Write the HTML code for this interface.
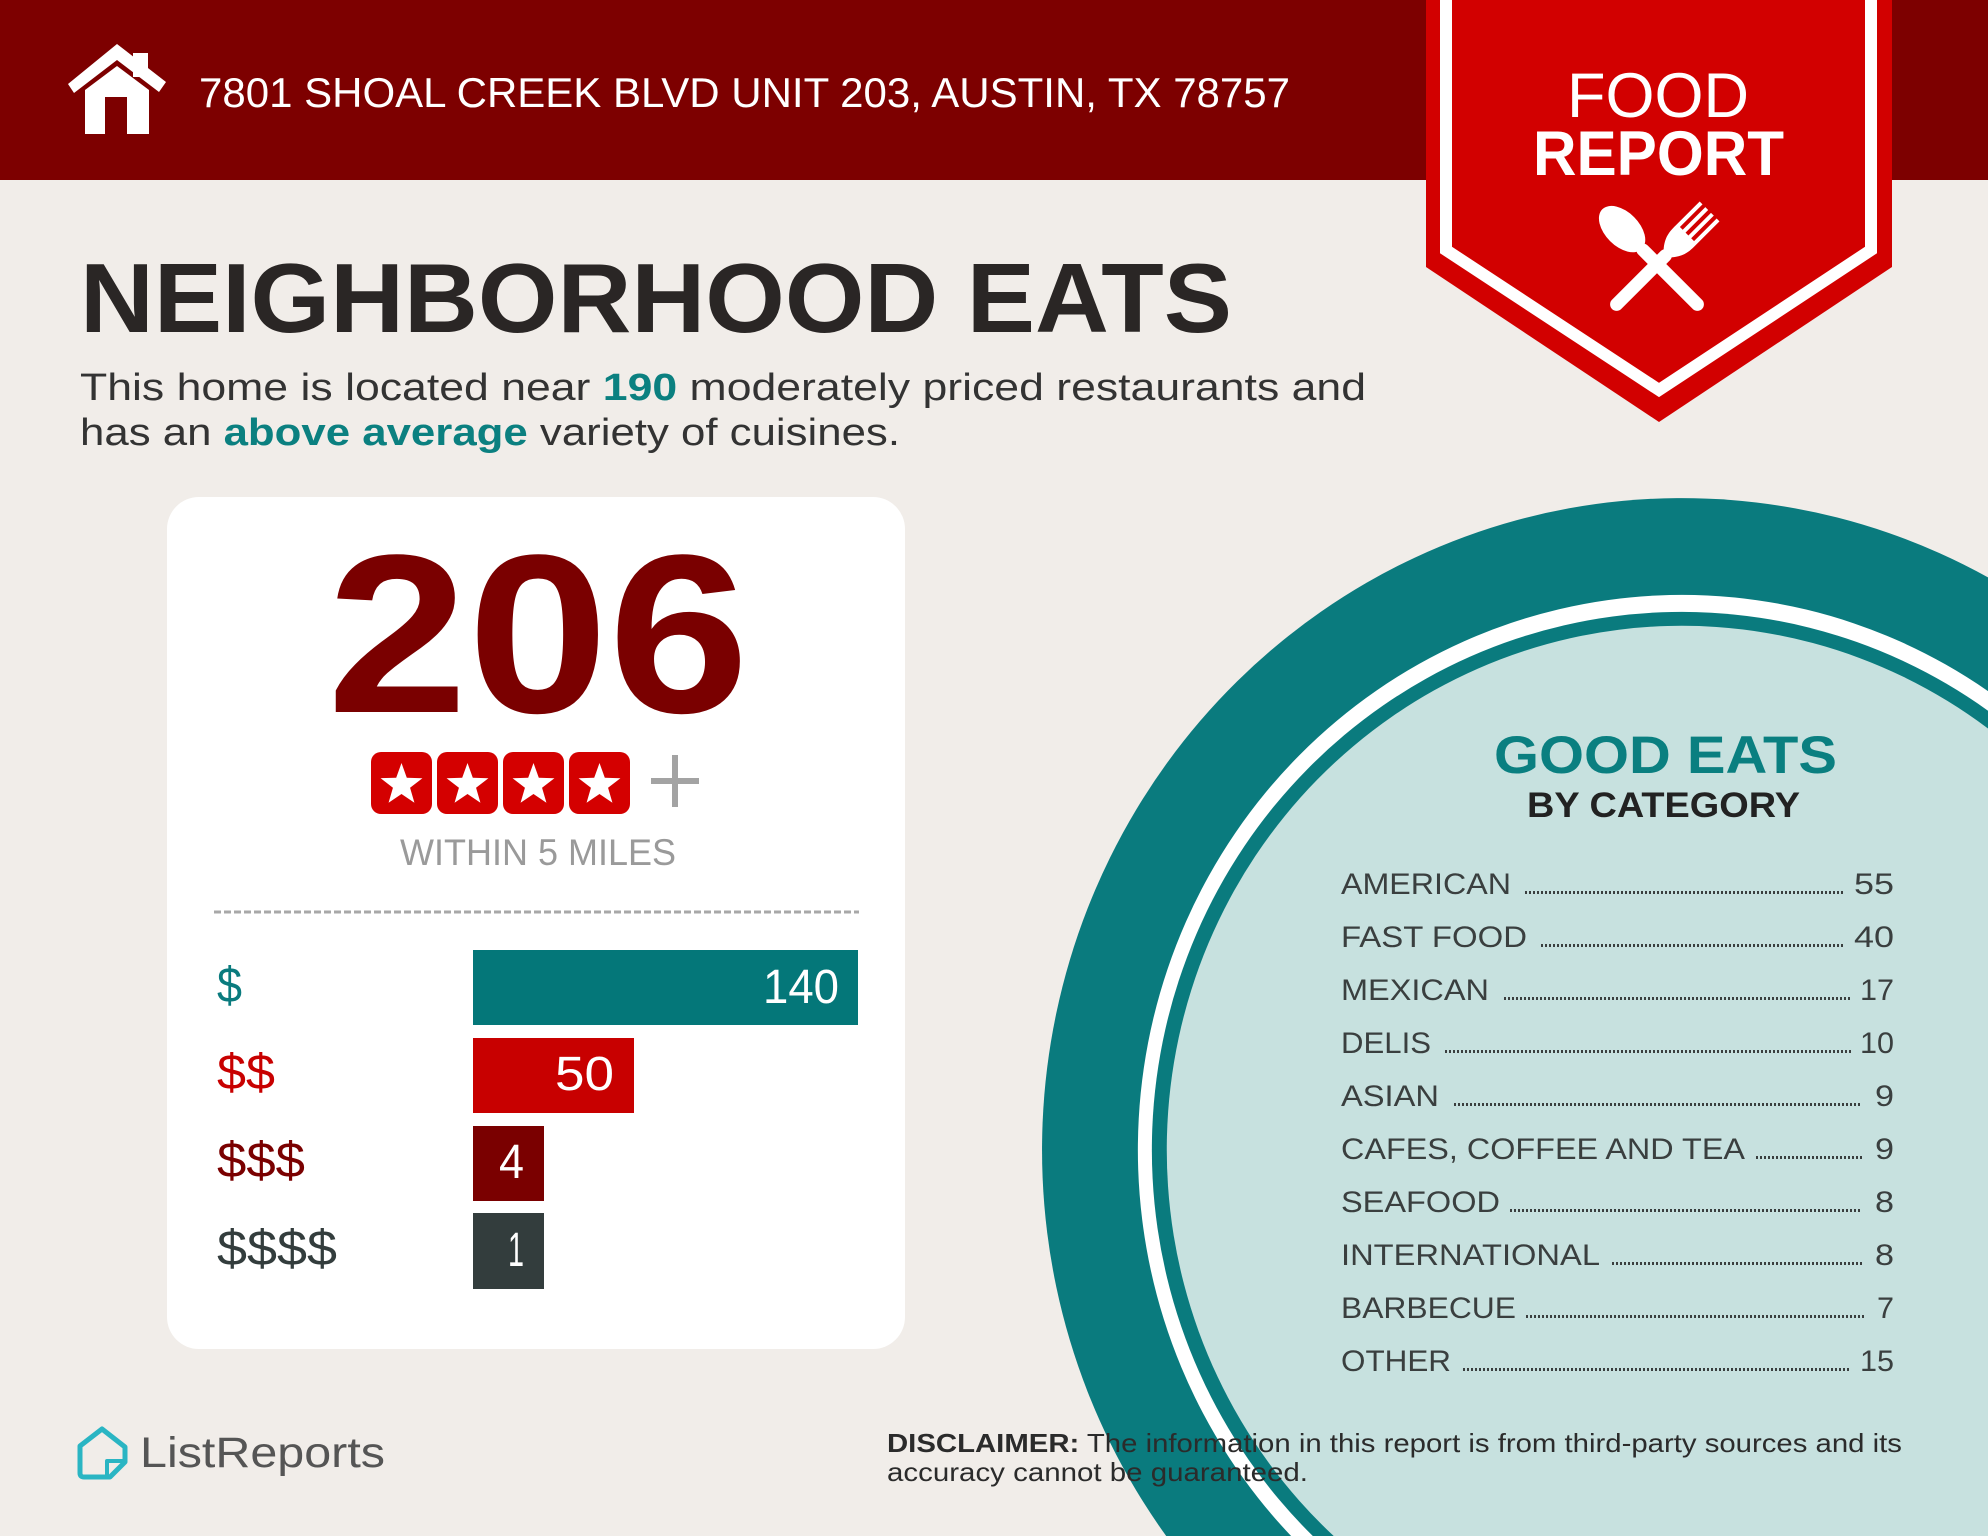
<!DOCTYPE html>
<html><head><meta charset="utf-8"><style>
html,body{margin:0;padding:0;background:#f1ede9;width:1988px;height:1536px;overflow:hidden;}
svg{display:block;position:absolute;left:0;top:0;}
text{font-family:"Liberation Sans",Arial,sans-serif;}
</style></head><body>
<svg width="1988" height="1536" viewBox="0 0 1988 1536" xmlns="http://www.w3.org/2000/svg">
<rect width="1988" height="1536" fill="#f1ede9"/>

<!-- big plate circle (clipped to frame) -->
<path d="M 1988 577.4 A 640 652 0 0 0 1166.2 1536 L 1988 1536 Z" fill="#0a7b7e"/>
<path d="M 1988 691.1 A 544 555 0 0 0 1291.1 1536 L 1988 1536 Z" fill="#ffffff"/>
<path d="M 1988 710.7 A 530 538 0 0 0 1312.8 1536 L 1988 1536 Z" fill="#0a7b7e"/>
<path d="M 1988 728.5 A 515 524 0 0 0 1333.7 1536 L 1988 1536 Z" fill="#c7e1df"/>

<!-- header band -->
<rect x="0" y="0" width="1988" height="180" fill="#7d0000"/>

<!-- house icon -->
<rect x="133" y="53" width="15" height="24" fill="#fff"/>
<polygon points="68,84 117,44 166,82 159,92 117,60 74,93" fill="#fff"/>
<polygon points="85,134 85,90 117,66 149,90 149,134" fill="#fff"/>
<rect x="105" y="97" width="22" height="37" fill="#7d0000"/>

<text x="199" y="107" font-size="42" fill="#ffffff" textLength="1091" lengthAdjust="spacingAndGlyphs">7801 SHOAL CREEK BLVD UNIT 203, AUSTIN, TX 78757</text>

<!-- ribbon -->
<polygon points="1426,0 1892,0 1892,267 1659,422 1426,267" fill="#d20000"/>
<path d="M1446,0 L1446,250 L1659,390 L1871,250 L1871,0" fill="none" stroke="#ffffff" stroke-width="12" stroke-linejoin="miter"/>
<text x="1567" y="117" font-size="63" fill="#ffffff" textLength="182" lengthAdjust="spacingAndGlyphs">FOOD</text>
<text x="1533" y="175" font-size="63" font-weight="bold" fill="#ffffff" textLength="251" lengthAdjust="spacingAndGlyphs">REPORT</text>

<!-- fork -->
<g transform="translate(1612,309) rotate(45)" fill="#ffffff">
  <rect x="-6.5" y="-82" width="13" height="82" rx="6.5"/>
  <path d="M -5 -78 C -14 -88 -14 -96 -14 -104 L -14 -138 L -10 -138 L -10 -106 L -6 -106 L -6 -138 L -2 -138 L -2 -106 L 2 -106 L 2 -138 L 6 -138 L 6 -106 L 10 -106 L 10 -138 L 14 -138 L 14 -104 C 14 -96 14 -88 5 -78 Z"/>
</g>
<!-- spoon -->
<g transform="translate(1702,309) rotate(-45)" fill="#ffffff">
  <rect x="-6.5" y="-90" width="13" height="90" rx="6.5"/>
  <ellipse cx="0" cy="-113" rx="17" ry="28"/>
</g>

<!-- title -->
<text x="80" y="332" font-size="98" font-weight="bold" fill="#2a2625" textLength="1152" lengthAdjust="spacingAndGlyphs">NEIGHBORHOOD EATS</text>
<text x="80" y="400" font-size="38" fill="#333333" textLength="1286" lengthAdjust="spacingAndGlyphs">This home is located near <tspan font-weight="bold" fill="#0b8080">190</tspan> moderately priced restaurants and</text>
<text x="80" y="445" font-size="38" fill="#333333" textLength="820" lengthAdjust="spacingAndGlyphs">has an <tspan font-weight="bold" fill="#0b8080">above average</tspan> variety of cuisines.</text>

<!-- card -->
<rect x="167" y="497" width="738" height="852" rx="32" fill="#ffffff"/>
<text x="327" y="712" font-size="226" font-weight="bold" fill="#7a0000" textLength="422" lengthAdjust="spacingAndGlyphs">206</text>

<!-- stars -->
<g>
  <rect x="371" y="752" width="61" height="62" rx="10" fill="#d40000"/>
  <rect x="437" y="752" width="61" height="62" rx="10" fill="#d40000"/>
  <rect x="503" y="752" width="61" height="62" rx="10" fill="#d40000"/>
  <rect x="569" y="752" width="61" height="62" rx="10" fill="#d40000"/>
  <g fill="#ffffff">
    <polygon transform="translate(401.5,785)" points="0,-22 5.29,-7.28 20.92,-6.8 8.56,2.78 12.93,17.8 0,9 -12.93,17.8 -8.56,2.78 -20.92,-6.8 -5.29,-7.28"/>
    <polygon transform="translate(467.5,785)" points="0,-22 5.29,-7.28 20.92,-6.8 8.56,2.78 12.93,17.8 0,9 -12.93,17.8 -8.56,2.78 -20.92,-6.8 -5.29,-7.28"/>
    <polygon transform="translate(533.5,785)" points="0,-22 5.29,-7.28 20.92,-6.8 8.56,2.78 12.93,17.8 0,9 -12.93,17.8 -8.56,2.78 -20.92,-6.8 -5.29,-7.28"/>
    <polygon transform="translate(599.5,785)" points="0,-22 5.29,-7.28 20.92,-6.8 8.56,2.78 12.93,17.8 0,9 -12.93,17.8 -8.56,2.78 -20.92,-6.8 -5.29,-7.28"/>
  </g>
  <rect x="651" y="778" width="48" height="6" fill="#a3a3a3"/>
  <rect x="672" y="755" width="6" height="52" fill="#a3a3a3"/>
</g>
<text x="400" y="865" font-size="37" fill="#9a9a9a" textLength="276" lengthAdjust="spacingAndGlyphs">WITHIN 5 MILES</text>
<line x1="214" y1="912" x2="859" y2="912" stroke="#a8a8a8" stroke-width="3" stroke-dasharray="7 3"/>

<!-- bars -->
<text x="217" y="1002" font-size="50" fill="#0a7b7e" textLength="25" lengthAdjust="spacingAndGlyphs">$</text>
<rect x="473" y="950" width="385" height="75" fill="#047779"/>
<text x="763" y="1003" font-size="48" fill="#ffffff" textLength="76" lengthAdjust="spacingAndGlyphs">140</text>

<text x="217" y="1089" font-size="50" fill="#c80000" textLength="58" lengthAdjust="spacingAndGlyphs">$$</text>
<rect x="473" y="1038" width="161" height="75" fill="#c80000"/>
<text x="555" y="1090" font-size="48" fill="#ffffff" textLength="59" lengthAdjust="spacingAndGlyphs">50</text>

<text x="217" y="1177" font-size="50" fill="#7a0000" textLength="88" lengthAdjust="spacingAndGlyphs">$$$</text>
<rect x="473" y="1126" width="71" height="75" fill="#7a0000"/>
<text x="499" y="1178" font-size="48" fill="#ffffff" textLength="25" lengthAdjust="spacingAndGlyphs">4</text>

<text x="217" y="1265" font-size="50" fill="#333d3d" textLength="120" lengthAdjust="spacingAndGlyphs">$$$$</text>
<rect x="473" y="1213" width="71" height="76" fill="#333d3d"/>
<text x="508" y="1266" font-size="48" fill="#ffffff" textLength="16" lengthAdjust="spacingAndGlyphs">1</text>

<!-- good eats list -->
<text x="1494" y="773" font-size="53" font-weight="bold" fill="#0a7f80" textLength="343" lengthAdjust="spacingAndGlyphs">GOOD EATS</text>
<text x="1527" y="817" font-size="35" font-weight="bold" fill="#222222" textLength="273" lengthAdjust="spacingAndGlyphs">BY CATEGORY</text>

<g font-size="30" fill="#3a3f3f">
  <g stroke="#3a3f3f" stroke-width="3" stroke-dasharray="2 2">
    <line x1="1525" y1="892.5" x2="1845" y2="892.5"/>
    <line x1="1541" y1="945.5" x2="1845" y2="945.5"/>
    <line x1="1504" y1="998.5" x2="1851" y2="998.5"/>
    <line x1="1445" y1="1051.5" x2="1851" y2="1051.5"/>
    <line x1="1454" y1="1104.5" x2="1862" y2="1104.5"/>
    <line x1="1756" y1="1157.5" x2="1862" y2="1157.5"/>
    <line x1="1510" y1="1210.5" x2="1862" y2="1210.5"/>
    <line x1="1612" y1="1263.5" x2="1862" y2="1263.5"/>
    <line x1="1526" y1="1316.5" x2="1866" y2="1316.5"/>
    <line x1="1463" y1="1369.5" x2="1851" y2="1369.5"/>
  </g>
  <text x="1341" y="894" textLength="170" lengthAdjust="spacingAndGlyphs">AMERICAN</text>
  <text x="1854" y="894" textLength="40" lengthAdjust="spacingAndGlyphs">55</text>

  <text x="1341" y="947" textLength="186" lengthAdjust="spacingAndGlyphs">FAST FOOD</text>
  <text x="1854" y="947" textLength="40" lengthAdjust="spacingAndGlyphs">40</text>

  <text x="1341" y="1000" textLength="148" lengthAdjust="spacingAndGlyphs">MEXICAN</text>
  <text x="1860" y="1000" textLength="34" lengthAdjust="spacingAndGlyphs">17</text>

  <text x="1341" y="1053" textLength="90" lengthAdjust="spacingAndGlyphs">DELIS</text>
  <text x="1860" y="1053" textLength="34" lengthAdjust="spacingAndGlyphs">10</text>

  <text x="1341" y="1106" textLength="98" lengthAdjust="spacingAndGlyphs">ASIAN</text>
  <text x="1875" y="1106" textLength="19" lengthAdjust="spacingAndGlyphs">9</text>

  <text x="1341" y="1159" textLength="404" lengthAdjust="spacingAndGlyphs">CAFES, COFFEE AND TEA</text>
  <text x="1875" y="1159" textLength="19" lengthAdjust="spacingAndGlyphs">9</text>

  <text x="1341" y="1212" textLength="159" lengthAdjust="spacingAndGlyphs">SEAFOOD</text>
  <text x="1875" y="1212" textLength="19" lengthAdjust="spacingAndGlyphs">8</text>

  <text x="1341" y="1265" textLength="259" lengthAdjust="spacingAndGlyphs">INTERNATIONAL</text>
  <text x="1875" y="1265" textLength="19" lengthAdjust="spacingAndGlyphs">8</text>

  <text x="1341" y="1318" textLength="175" lengthAdjust="spacingAndGlyphs">BARBECUE</text>
  <text x="1877" y="1318" textLength="17" lengthAdjust="spacingAndGlyphs">7</text>

  <text x="1341" y="1371" textLength="110" lengthAdjust="spacingAndGlyphs">OTHER</text>
  <text x="1860" y="1371" textLength="34" lengthAdjust="spacingAndGlyphs">15</text>
</g>

<!-- logo -->
<path d="M80,1446 L102,1429 L125,1447 L125,1462 L110,1477 L84,1477 Q80,1477 80,1473 Z" fill="none" stroke="#2ab5c3" stroke-width="5" stroke-linejoin="round"/>
<path d="M123,1461 L107,1461 L107,1475" fill="none" stroke="#2ab5c3" stroke-width="4" stroke-linejoin="round"/>
<text x="140" y="1467" font-size="43" fill="#555555" textLength="245" lengthAdjust="spacingAndGlyphs">ListReports</text>

<!-- disclaimer -->
<text x="887" y="1452" font-size="26" fill="#2b2b2b" textLength="1015" lengthAdjust="spacingAndGlyphs"><tspan font-weight="bold">DISCLAIMER:</tspan> The information in this report is from third-party sources and its</text>
<text x="887" y="1481" font-size="26" fill="#2b2b2b" textLength="421" lengthAdjust="spacingAndGlyphs">accuracy cannot be guaranteed.</text>
</svg>
</body></html>
